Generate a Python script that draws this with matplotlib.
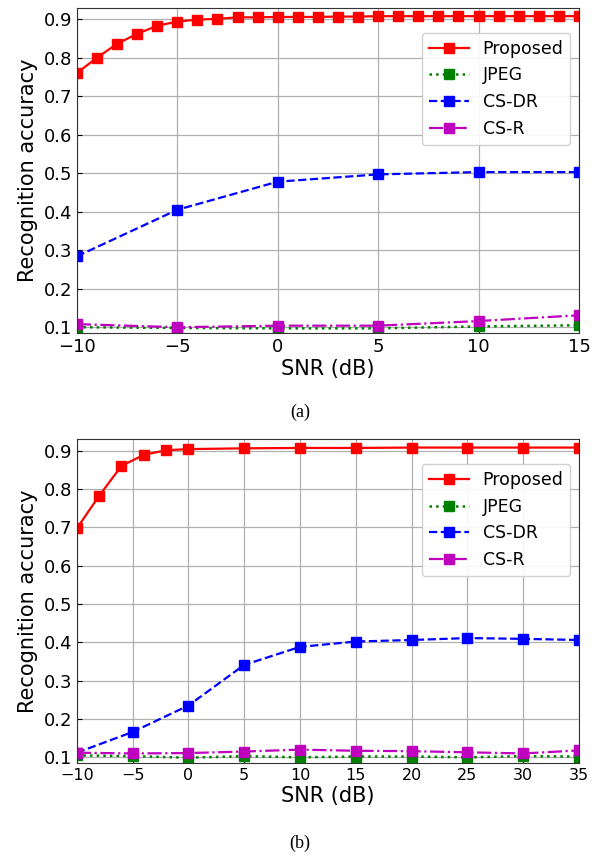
import numpy as np
import matplotlib
matplotlib.use('Agg')
import matplotlib.pyplot as plt

plt.rcParams.update({
    'font.family': 'DejaVu Sans',
    'font.size': 12,
    'axes.grid': True,
    'grid.color': '#b0b0b0',
    'grid.linewidth': 0.9,
    'xtick.direction': 'in',
    'ytick.direction': 'in',
})

# ---- (a) SNR -10..15 dB ----
snr_a_fine = np.arange(-10, 16, 1)
proposed_a = [0.760, 0.800, 0.836, 0.862, 0.883, 0.894, 0.899, 0.901, 0.905, 0.905,
              0.906, 0.906, 0.906, 0.907, 0.907, 0.908, 0.908, 0.908, 0.908, 0.908,
              0.908, 0.908, 0.908, 0.908, 0.908, 0.908]
snr_a = [-10, -5, 0, 5, 10, 15]
jpeg_a = [0.100, 0.098, 0.097, 0.097, 0.102, 0.105]
csdr_a = [0.284, 0.405, 0.478, 0.497, 0.503, 0.503]
csr_a = [0.108, 0.100, 0.104, 0.104, 0.116, 0.131]

# ---- (b) SNR -10..35 dB ----
snr_b_prop = [-10, -8, -6, -4, -2, 0, 5, 10, 15, 20, 25, 30, 35]
proposed_b = [0.697, 0.782, 0.860, 0.889, 0.901, 0.904, 0.906, 0.907, 0.907,
              0.908, 0.908, 0.908, 0.908]
snr_b = [-10, -5, 0, 5, 10, 15, 20, 25, 30, 35]
jpeg_b = [0.105, 0.103, 0.099, 0.103, 0.100, 0.102, 0.102, 0.100, 0.103, 0.102]
csdr_b = [0.112, 0.166, 0.235, 0.341, 0.388, 0.402, 0.406, 0.411, 0.409, 0.406]
csr_b = [0.112, 0.110, 0.111, 0.115, 0.120, 0.117, 0.116, 0.113, 0.110, 0.118]

yticks = [0.1, 0.2, 0.3, 0.4, 0.5, 0.6, 0.7, 0.8, 0.9]

fig = plt.figure(figsize=(6.0, 8.56), dpi=100)
ax_a = fig.add_axes([0.128, 0.611, 0.837, 0.380])
ax_b = fig.add_axes([0.128, 0.1086, 0.837, 0.3784])


def draw(ax, xp, yp, x, jpeg, csdr, csr, xlim, xtick_fs):
    ms = 7.5
    ax.plot(xp, yp, '-', color='red', marker='s', ms=ms, lw=1.6, label='Proposed')
    ax.plot(x, jpeg, ':', color='green', marker='s', ms=ms, lw=1.8, label='JPEG')
    ax.plot(x, csdr, '--', color='blue', marker='s', ms=ms, lw=1.6, label='CS-DR')
    ax.plot(x, csr, '-.', color='m', marker='s', ms=ms, lw=1.6, label='CS-R')
    ax.set_xlim(*xlim)
    ax.set_ylim(0.085, 0.93)
    ax.set_yticks(yticks)
    ax.set_xticks(np.arange(xlim[0], xlim[1] + 1, 5))
    ax.tick_params(axis='y', labelsize=13)
    ax.tick_params(axis='x', labelsize=xtick_fs)
    ax.set_xlabel('SNR (dB)', fontsize=15, labelpad=2)
    ax.set_ylabel('Recognition accuracy', fontsize=15)
    for s in ax.spines.values():
        s.set_color('#333333')
    ax.legend(loc='upper right', bbox_to_anchor=(1.0, 0.95), fontsize=12.5,
              handlelength=2.3, framealpha=0.9, edgecolor='#cccccc')


draw(ax_a, snr_a_fine, proposed_a, snr_a, jpeg_a, csdr_a, csr_a, (-10, 15), 13)
draw(ax_b, snr_b_prop, proposed_b, snr_b, jpeg_b, csdr_b, csr_b, (-10, 35), 11.5)

fig.text(0.5, 1 - 412 / 856, '(a)', ha='center', va='center', fontsize=13,
         family='Liberation Serif')
fig.text(0.5, 1 - 843 / 856, '(b)', ha='center', va='center', fontsize=13,
         family='Liberation Serif')

fig.savefig('out.png', dpi=100, facecolor='white')
